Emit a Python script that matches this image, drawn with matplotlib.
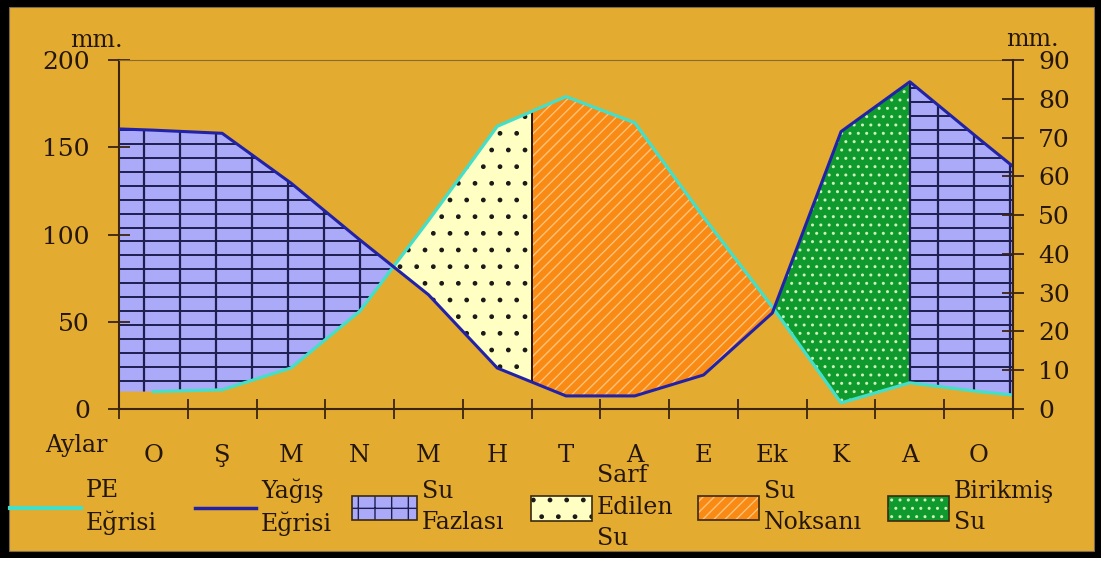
import numpy as np
import matplotlib
matplotlib.use("Agg")
import matplotlib.pyplot as plt
from matplotlib.patches import Rectangle, Patch
from matplotlib.lines import Line2D
from matplotlib.legend_handler import HandlerTuple

# ---------------- data ----------------
months = ["O", "Ş", "M", "N", "M", "H", "T", "A", "E", "Ek", "K", "A", "O"]
month_pos = [0.5, 1.5, 2.5, 3.5, 4.5, 5.5, 6.5, 7.5, 8.5, 9.5, 10.5, 11.5, 12.5]

# Yağış (precipitation) curve: left edge, month centres, right edge
rain_x = [0.0, 0.5, 1.5, 2.5, 3.5, 4.5, 5.5, 6.5, 7.5, 8.5, 9.5, 10.5, 11.5, 12.5, 13.0]
rain = [160.5, 159.8, 158, 129.5, 97, 65.5, 23.5, 7.5, 7.5, 19.5, 55, 159, 187.5, 155, 139]

# PE (potential evapotranspiration) curve
pe_x = [0.5, 1.5, 2.5, 3.5, 4.5, 5.5, 6.5, 7.5, 8.5, 9.5, 10.5, 11.5, 12.5, 13.0]
pe = [10, 11, 23.5, 56, 108, 162, 179, 164, 110, 58.5, 3.5, 15, 10, 8]

left_ticks = [0, 50, 100, 150, 200]
right_ticks = [0, 10, 20, 30, 40, 50, 60, 70, 80, 90]

split_used = 6.0      # end of "Sarf Edilen Su"
split_stored = 11.5   # end of "Birikmiş Su"

# grid-hatch spacing for "Su Fazlası" (pattern, not data)
grid_dy = 8.0
grid_x0, grid_dx = 0.36, 0.525

# ---------------- style ----------------
BG = "#E3AB30"
TXT = "#24160A"
AXC = "#3B2412"
C_PE = "#44DFC8"
C_RAIN = "#2222A8"
C_BLUE = "#AAAAF8"
C_GRID = "#1E1E50"
C_YEL = "#FFFFC4"
C_ORA = "#F98A14"
C_ORA_H = "#FFC27A"
C_GRN = "#0F9A2E"
C_GRN_H = "#CDEFB8"
FONT = "DejaVu Serif"

plt.rcParams["font.family"] = [FONT, "DejaVu Sans"]
plt.rcParams["hatch.linewidth"] = 1.0

W, H = 1101, 561
fig = plt.figure(figsize=(W / 100, H / 100), dpi=100)
fig.patch.set_facecolor("white")

# frame
fig.add_artist(Rectangle((0, 3 / H), 1, 1 - 3 / H, transform=fig.transFigure,
                         facecolor="black", edgecolor="none", zorder=-10))
fig.add_artist(Rectangle((9 / W, 10 / H), (1094 - 9) / W, (554 - 10) / H,
                         transform=fig.transFigure, facecolor=BG,
                         edgecolor="#7a6a50", linewidth=0.8, zorder=-9))

ax = fig.add_axes([119 / W, 1 - 409 / H, (1013 - 119) / W, (409 - 60) / H])
ax.set_facecolor("none")
ax.set_xlim(0, 13)
ax.set_ylim(0, 200)

xs = np.linspace(0, 13, 1301)
r_i = np.interp(xs, rain_x, rain)
p_i = np.interp(xs, pe_x, pe)

# Su Fazlası
faz = ax.fill_between(xs, p_i, r_i,
                      where=(r_i >= p_i) & ((xs <= split_used) | (xs >= split_stored)),
                      interpolate=True, facecolor=C_BLUE, linewidth=0, zorder=1)
h_lines = np.arange(grid_dy, 200, grid_dy)
v_lines = grid_x0 + grid_dx * np.arange(0, 26)
for path in faz.get_paths():
    hl = ax.hlines(h_lines, 0, 13, colors=C_GRID, linewidth=1.4, zorder=1.5)
    hl.set_clip_path(path, ax.transData)
    vl = ax.vlines(v_lines, 0, 200, colors=C_GRID, linewidth=1.6, zorder=1.5)
    vl.set_clip_path(path, ax.transData)

# Sarf Edilen Su
ax.fill_between(xs, r_i, p_i, where=(p_i >= r_i) & (xs <= split_used),
                interpolate=True, facecolor=C_YEL, edgecolor="#1a1a1a", hatch=".",
                linewidth=0, zorder=1)
# Su Noksanı
ax.fill_between(xs, r_i, p_i, where=(p_i >= r_i) & (xs >= split_used),
                interpolate=True, facecolor=C_ORA, edgecolor=C_ORA_H, hatch="///",
                linewidth=0, zorder=1)
# Birikmiş Su
ax.fill_between(xs, p_i, r_i, where=(r_i >= p_i) & (xs > split_used) & (xs <= split_stored),
                interpolate=True, facecolor=C_GRN, edgecolor=C_GRN_H, hatch="..",
                linewidth=0, zorder=1)

ax.vlines(split_used, np.interp(split_used, rain_x, rain), np.interp(split_used, pe_x, pe),
          color="black", linewidth=1.2, zorder=2)
ax.vlines(split_stored, np.interp(split_stored, pe_x, pe), np.interp(split_stored, rain_x, rain),
          color=C_GRID, linewidth=1.6, zorder=2)

ax.plot(pe_x, pe, color=C_PE, linewidth=2.3, zorder=3, solid_joinstyle="round")
ax.plot(rain_x, rain, color=C_RAIN, linewidth=2.2, zorder=4, solid_joinstyle="round")

# axes styling
for s in ["left", "bottom"]:
    ax.spines[s].set_color(AXC)
    ax.spines[s].set_linewidth(1.5)
ax.spines["right"].set_visible(False)
ax.spines["top"].set_color("#8B6A2E")
ax.spines["top"].set_linewidth(0.8)

ax.set_yticks(left_ticks)
ax.set_yticklabels([str(v) for v in left_ticks])
ax.yaxis.set_ticks_position("left")
ax.tick_params(axis="y", direction="inout", length=16, width=1.3, color=AXC,
               labelsize=18, labelcolor=TXT, pad=13)

ax.set_xticks(np.arange(0, 14))
ax.set_xticks(month_pos, minor=True)
ax.set_xticklabels(months, minor=True)
ax.tick_params(axis="x", which="major", direction="inout", length=14, width=1.3,
               color=AXC, labelbottom=False)
ax.tick_params(axis="x", which="minor", length=0, labelsize=17.5, labelcolor=TXT, pad=25)

ax2 = ax.twinx()
ax2.set_facecolor("none")
ax2.set_ylim(0, 90)
ax2.set_yticks(right_ticks)
ax2.set_yticklabels([str(v) for v in right_ticks])
for s in ["left", "top", "bottom"]:
    ax2.spines[s].set_visible(False)
ax2.spines["right"].set_color(AXC)
ax2.spines["right"].set_linewidth(1.5)
ax2.tick_params(axis="y", direction="inout", length=16, width=1.3, color=AXC,
                labelsize=18, labelcolor=TXT, pad=10)

# unit labels and month caption
fig.text(96 / W, 1 - 47 / H, "mm.", ha="center", va="baseline", fontsize=17, color=TXT)
fig.text(1032 / W, 1 - 46 / H, "mm.", ha="center", va="baseline", fontsize=17, color=TXT)
fig.text(45 / W, 1 - 452 / H, "Aylar", ha="left", va="baseline", fontsize=17, color=TXT)

# ---------------- legend ----------------
box_edge = "#3a2a10"
items = [
    (Line2D([], [], color=C_PE, linewidth=3), "PE\nEğrisi", 10, 3.0, 0.7),
    (Line2D([], [], color=C_RAIN, linewidth=2.5), "Yağış\nEğrisi", 195, 2.6, 0.7),
    ((Patch(facecolor=C_BLUE, edgecolor=C_GRID, hatch="+", linewidth=0),
      Patch(facecolor="none", edgecolor=box_edge, linewidth=1.2)), "Su\nFazlası", 352, 2.75, 1.2),
    ((Patch(facecolor=C_YEL, edgecolor="#1a1a1a", hatch=".", linewidth=0),
      Patch(facecolor="none", edgecolor=box_edge, linewidth=1.2)), "Sarf\nEdilen\nSu", 531, 2.6, 1.25),
    ((Patch(facecolor=C_ORA, edgecolor=C_ORA_H, hatch="///", linewidth=0),
      Patch(facecolor="none", edgecolor=box_edge, linewidth=1.2)), "Su\nNoksanı", 698, 2.6, 1.2),
    ((Patch(facecolor=C_GRN, edgecolor=C_GRN_H, hatch="..", linewidth=0),
      Patch(facecolor="none", edgecolor=box_edge, linewidth=1.2)), "Birikmiş\nSu", 888, 2.6, 1.25),
]
for handle, label, xpix, hl_, hh_ in items:
    leg = fig.legend([handle], [label], loc="center left",
                     bbox_to_anchor=(xpix / W, 1 - 507 / H), frameon=False,
                     borderpad=0, borderaxespad=0, handlelength=hl_, handleheight=hh_,
                     handletextpad=0.2, fontsize=17, labelcolor=TXT,
                     handler_map={tuple: HandlerTuple(ndivide=1, pad=0)})
    for t in leg.get_texts():
        t.set_linespacing(1.45)

fig.savefig("out.png", dpi=100)
